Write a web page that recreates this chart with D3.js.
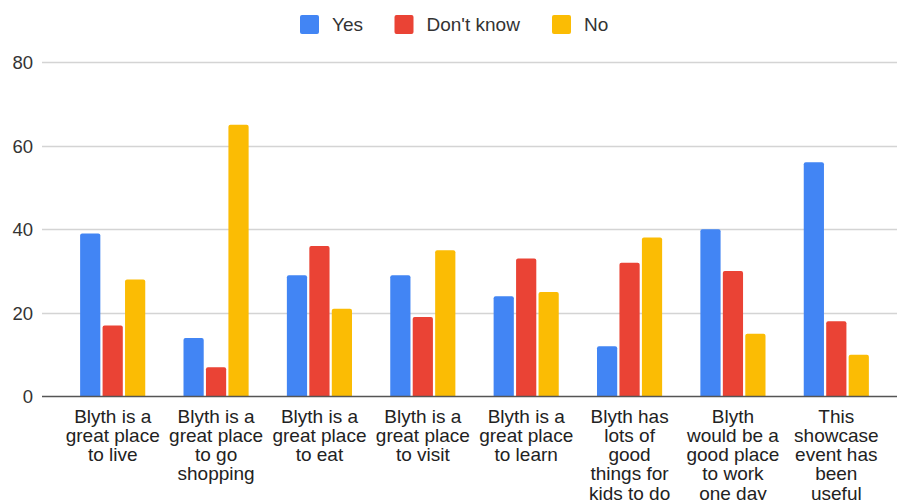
<!DOCTYPE html>
<html>
<head>
<meta charset="utf-8">
<script src="https://cdn.jsdelivr.net/npm/d3@7/dist/d3.min.js"></script>
<style>
  html, body { margin: 0; padding: 0; background: #fff; }
  svg { display: block; font-family: "Liberation Sans", Arial, sans-serif; }
</style>
</head>
<body>
<svg id="chart" width="897" height="500"></svg>
<script>
// ---- data ----
const categories = [
  "Blyth is a\ngreat place\nto live",
  "Blyth is a\ngreat place\nto go\nshopping",
  "Blyth is a\ngreat place\nto eat",
  "Blyth is a\ngreat place\nto visit",
  "Blyth is a\ngreat place\nto learn",
  "Blyth has\nlots of\ngood\nthings for\nkids to do",
  "Blyth\nwould be a\ngood place\nto work\none day",
  "This\nshowcase\nevent has\nbeen\nuseful"
];
const seriesNames = ["Yes", "Don't know", "No"];
const yesValues = [39, 14, 29, 29, 24, 12, 40, 56];
const dontKnowValues = [17, 7, 36, 19, 33, 32, 30, 18];
const noValues = [28, 65, 21, 35, 25, 38, 15, 10];
const seriesColors = ["#4285F4", "#EA4335", "#FBBC04"];
const yTicks = [0, 20, 40, 60, 80];

const seriesValues = [yesValues, dontKnowValues, noValues];

const svg = d3.select("#chart");
const fontSize = 19;
const textColor = "#222";

const x0 = d3.scaleBand()
  .domain(d3.range(categories.length))
  .range([61, 888])
  .paddingInner(0.37)
  .paddingOuter(0.185);

const x1 = d3.scaleBand()
  .domain(d3.range(seriesNames.length))
  .range([0, x0.bandwidth()])
  .paddingInner(0.1);

const y = d3.scaleLinear().domain([0, 80]).range([396.5, 62]);

// gridlines
svg.append("g").selectAll("line")
  .data(yTicks.filter(t => t !== 0))
  .join("line")
  .attr("x1", 42).attr("x2", 897)
  .attr("y1", d => Math.round(y(d)) + 0.5).attr("y2", d => Math.round(y(d)) + 0.5)
  .attr("stroke", "#d4d4d4").attr("stroke-width", 1.3);

// y axis labels
const yAxis = d3.axisLeft(y).tickValues(yTicks).tickSize(0).tickPadding(0);
const yg = svg.append("g").attr("transform", "translate(33,0)").call(yAxis);
yg.select(".domain").remove();
yg.selectAll("text")
  .attr("font-size", 18.5)
  .attr("font-family", "Liberation Sans, Arial, sans-serif")
  .attr("fill", "#333")
  .attr("dy", "0.35em");

// bars
const groups = svg.append("g").selectAll("g")
  .data(categories.map((c, i) => i))
  .join("g")
  .attr("transform", i => `translate(${x0(i)},0)`);

groups.selectAll("path")
  .data(i => seriesValues.map((vals, s) => ({ s, v: vals[i] })))
  .join("path")
  .attr("fill", d => seriesColors[d.s])
  .attr("d", d => {
    const bx = x1(d.s), bw = x1.bandwidth();
    const top = y(d.v), bot = y(0), r = 2;
    return `M${bx},${bot}V${top + r}Q${bx},${top} ${bx + r},${top}H${bx + bw - r}Q${bx + bw},${top} ${bx + bw},${top + r}V${bot}Z`;
  });

// baseline
svg.append("line")
  .attr("x1", 42).attr("x2", 897)
  .attr("y1", y(0)).attr("y2", y(0))
  .attr("stroke", "#555").attr("stroke-width", 1.4);

// x labels
const xAxis = d3.axisBottom(x0).tickSize(0).tickFormat(() => "");
const xg = svg.append("g").attr("transform", `translate(0,${y(0)})`).call(xAxis);
xg.select(".domain").remove();
xg.selectAll(".tick").each(function(i) {
  const t = d3.select(this).select("text")
    .attr("font-size", fontSize)
    .attr("font-family", "Liberation Sans, Arial, sans-serif")
    .attr("fill", textColor)
    .attr("text-anchor", "middle")
    .attr("y", 0).attr("dy", null);
  categories[i].split("\n").forEach((line, k) => {
    t.append("tspan").attr("x", 0).attr("y", 26 + k * 19.3).text(line);
  });
});

// legend
const legendItems = [
  { name: seriesNames[0], color: seriesColors[0], x: 300 },
  { name: seriesNames[1], color: seriesColors[1], x: 394.5 },
  { name: seriesNames[2], color: seriesColors[2], x: 552 }
];
const lg = svg.append("g");
legendItems.forEach(it => {
  lg.append("rect").attr("x", it.x).attr("y", 15).attr("width", 19).attr("height", 19)
    .attr("rx", 2).attr("fill", it.color);
  lg.append("text").attr("x", it.x + 32).attr("y", 31)
    .attr("font-size", fontSize).attr("fill", "#333").text(it.name);
});
</script>
</body>
</html>
